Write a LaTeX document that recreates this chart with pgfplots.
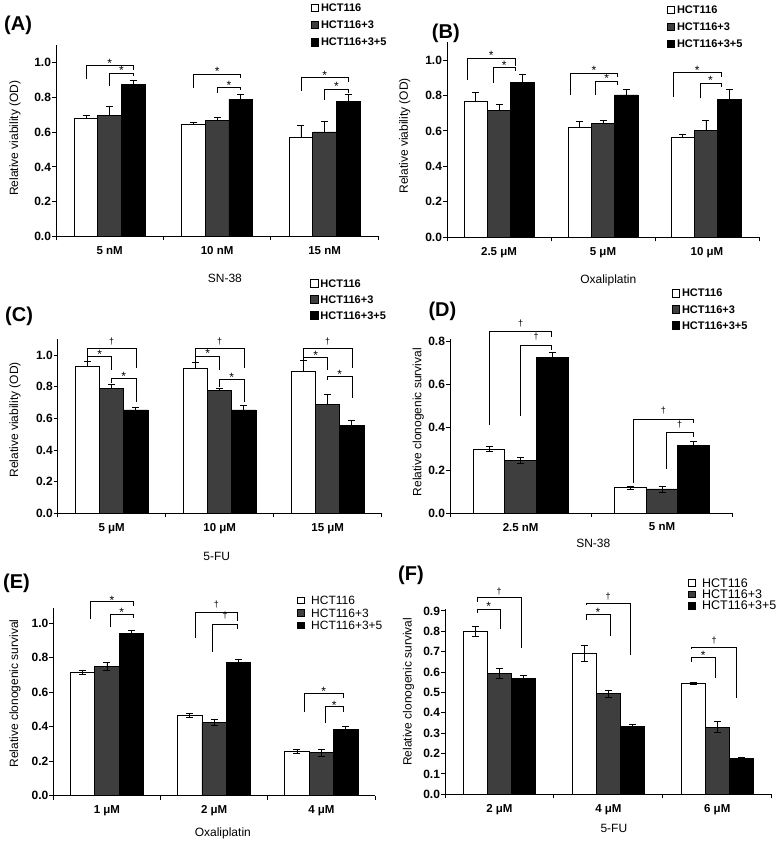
\documentclass[border=0pt]{standalone}
\usepackage{fontspec}
\setmainfont{Liberation Sans}
\usepackage{pgfplots}
\pgfplotsset{compat=1.18}
\usetikzlibrary{calc}
\definecolor{dg}{RGB}{62,62,62}

\newcommand{\ytfont}{\bfseries\fontsize{12}{13}\selectfont}
\newcommand{\xtfont}{\bfseries\fontsize{11.5}{13}\selectfont}
\newcommand{\lfont}{\fontsize{12}{13}\selectfont}
\newcommand{\sst}{{\fontsize{12}{12}\selectfont *}}
\newcommand{\sdg}{{\fontsize{9}{9}\selectfont †}}
% bracket: x1 x2 ytop yleft yright label shift
\newcommand{\brk}[7]{%
  \draw[line width=0.7pt] (axis cs:#1,#4) |- (axis cs:#2,#3) -- (axis cs:#2,#5);
  \node[anchor=base, inner sep=0pt, yshift=#7] at ($(axis cs:#1,#3)!0.5!(axis cs:#2,#3)$) {#6};
}

\pgfplotsset{
  panel/.style={
    scale only axis, clip=false,
    xmin=0, ymin=0,
    axis x line*=bottom, axis y line*=left,
    axis line style={line width=0.9pt, -},
    tick align=outside, major tick length=4pt,
    tick style={line width=0.9pt, black},
    x tick label as interval,
    yticklabel style={font=\ytfont, inner sep=0.8pt},
    xticklabel style={font=\xtfont, yshift=-2.5pt},
    label style={font=\lfont},
    legend cell align=left,
    /pgf/number format/fixed,
    /pgf/number format/fixed zerofill,
    /pgf/number format/precision=1,
    /pgf/number format/assume math mode=true,
    error bars/y explicit,
    error bars/error bar style={line width=0.8pt, black},
    error bars/error mark options={line width=0.8pt, black, mark size=3.5pt, rotate=90},
  },
  bar/.style 2 args={ybar, bar shift=0pt, bar width=#1, fill=#2, draw=black, line width=0.8pt, forget plot},
  legAD/.style 2 args={legend style={draw=none, fill=none, at={#1}, anchor=north west,
      font=\bfseries\fontsize{11}{11}\selectfont, row sep=#2, column sep=2pt, inner sep=0pt,
      nodes={inner sep=0pt, text height=7.9pt, text depth=0pt, anchor=base west}},
    legend image code/.code={\draw[##1, line width=0.6pt] (0pt,0pt) rectangle (7.6pt,7.6pt);}},
  legEF/.style n args={3}{legend style={draw=none, fill=none, at={#1}, anchor=north west,
      font=\fontsize{#3}{#3}\selectfont, row sep=#2, column sep=7pt, inner sep=0pt,
      nodes={inner sep=0pt, text height=0.716*#3, text depth=0pt, anchor=base west}},
    legend image code/.code={\draw[##1, line width=0.6pt] (0pt,1pt) rectangle (6.6pt,7.6pt);}},
}

\begin{document}
\begin{tikzpicture}
\useasboundingbox (0,0) rectangle (776pt,843pt);

% ---------------- (A)
\begin{axis}[panel, at={(56pt,606.5pt)}, anchor=south west, width=322.3pt, height=191.4pt,
  xmax=3, ymax=1.1, ytick={0,0.2,0.4,0.6,0.8,1},
  xtick={0,1,2,3}, xticklabels={5 nM,10 nM,15 nM},
  xlabel={SN-38}, ylabel={Relative viability (OD)},
  xlabel style={at={(axis description cs:0.524,-0.218)}, anchor=center},
  ylabel style={at={(axis description cs:-0.127,0.513)}, anchor=center},
  error bars/y dir=plus, legAD={(0.79,1.217)}{8.9pt}]
\addplot[bar={0.22}{white}] coordinates {(0.28,0.678) +- (0,0.019) (1.28,0.645) +- (0,0.013) (2.28,0.572) +- (0,0.067)};
\addplot[bar={0.22}{dg}] coordinates {(0.5,0.697) +- (0,0.052) (1.5,0.668) +- (0,0.019) (2.5,0.601) +- (0,0.063)};
\addplot[bar={0.22}{black}] coordinates {(0.72,0.875) +- (0,0.023) (1.72,0.789) +- (0,0.029) (2.72,0.775) +- (0,0.043)};
\addlegendimage{fill=white, draw=black}\addlegendentry{HCT116}
\addlegendimage{fill=dg, draw=black}\addlegendentry{HCT116+3}
\addlegendimage{fill=black, draw=black}\addlegendentry{HCT116+3+5}
\brk{0.28}{0.72}{0.981}{0.904}{0.956}{\sst}{-1.5pt}
\brk{0.5}{0.72}{0.94}{0.864}{0.921}{\sst}{-1.5pt}
\brk{1.28}{1.72}{0.933}{0.856}{0.908}{\sst}{-1.5pt}
\brk{1.5}{1.72}{0.856}{0.822}{0.841}{\sst}{-1.5pt}
\brk{2.28}{2.72}{0.912}{0.837}{0.889}{\sst}{-1.5pt}
\brk{2.5}{2.72}{0.845}{0.783}{0.822}{\sst}{-1.5pt}
\end{axis}

% ---------------- (B)
\begin{axis}[panel, at={(447pt,605.7pt)}, anchor=south west, width=312pt, height=195pt,
  xmax=3, ymax=1.1, ytick={0,0.2,0.4,0.6,0.8,1},
  xtick={0,1,2,3}, xticklabels={2.5 μM,5 μM,10 μM},
  xlabel={Oxaliplatin}, ylabel={Relative viability (OD)},
  xlabel style={at={(axis description cs:0.517,-0.219)}, anchor=center},
  ylabel style={at={(axis description cs:-0.135,0.52)}, anchor=center},
  error bars/y dir=plus, legAD={(0.704,1.189)}{8.8pt}]
\addplot[bar={0.224}{white}] coordinates {(0.276,0.765) +- (0,0.051) (1.276,0.62) +- (0,0.036) (2.266,0.562) +- (0,0.019)};
\addplot[bar={0.224}{dg}] coordinates {(0.5,0.718) +- (0,0.032) (1.5,0.643) +- (0,0.019) (2.49,0.602) +- (0,0.056)};
\addplot[bar={0.224}{black}] coordinates {(0.724,0.874) +- (0,0.047) (1.724,0.803) +- (0,0.033) (2.714,0.778) +- (0,0.058)};
\addlegendimage{fill=white, draw=black}\addlegendentry{HCT116}
\addlegendimage{fill=dg, draw=black}\addlegendentry{HCT116+3}
\addlegendimage{fill=black, draw=black}\addlegendentry{HCT116+3+5}
\brk{0.195}{0.654}{1.009}{0.887}{0.968}{\sst}{-1.5pt}
\brk{0.445}{0.654}{0.957}{0.872}{0.938}{\sst}{-1.5pt}
\brk{1.183}{1.641}{0.925}{0.803}{0.902}{\sst}{-1.5pt}
\brk{1.43}{1.641}{0.882}{0.803}{0.859}{\sst}{-1.5pt}
\brk{2.176}{2.635}{0.929}{0.793}{0.902}{\sst}{-1.5pt}
\brk{2.433}{2.635}{0.868}{0.784}{0.846}{\sst}{-1.5pt}
\end{axis}

% ---------------- (C)
\begin{axis}[panel, at={(57.7pt,329.7pt)}, anchor=south west, width=324pt, height=174.1pt,
  xmax=3, ymax=1.1, ytick={0,0.2,0.4,0.6,0.8,1},
  xtick={0,1,2,3}, xticklabels={5 μM,10 μM,15 μM},
  xlabel={5-FU}, ylabel={Relative viability (OD)},
  xlabel style={at={(axis description cs:0.491,-0.249)}, anchor=center},
  ylabel style={at={(axis description cs:-0.132,0.536)}, anchor=center},
  error bars/y dir=plus, legAD={(0.779,1.346)}{7.8pt}]
\addplot[bar={0.224}{white}] coordinates {(0.276,0.926) +- (0,0.032) (1.276,0.916) +- (0,0.036) (2.276,0.899) +- (0,0.065)};
\addplot[bar={0.224}{dg}] coordinates {(0.5,0.789) +- (0,0.028) (1.5,0.775) +- (0,0.014) (2.5,0.688) +- (0,0.066)};
\addplot[bar={0.224}{black}] coordinates {(0.724,0.653) +- (0,0.016) (1.724,0.653) +- (0,0.031) (2.724,0.554) +- (0,0.035)};
\addlegendimage{fill=white, draw=black}\addlegendentry{HCT116}
\addlegendimage{fill=dg, draw=black}\addlegendentry{HCT116+3}
\addlegendimage{fill=black, draw=black}\addlegendentry{HCT116+3+5}
\brk{0.276}{0.724}{1.042}{0.99}{0.916}{\sdg}{3.5pt}
\brk{0.276}{0.5}{0.989}{0.964}{0.905}{\sst}{-2pt}
\brk{0.5}{0.724}{0.853}{0.821}{0.705}{\sst}{-2pt}
\brk{1.276}{1.724}{1.042}{0.99}{0.916}{\sdg}{3.5pt}
\brk{1.276}{1.5}{0.994}{0.958}{0.905}{\sst}{-2pt}
\brk{1.5}{1.724}{0.846}{0.8}{0.705}{\sst}{-2pt}
\brk{2.276}{2.724}{1.042}{0.99}{0.916}{\sdg}{3.5pt}
\brk{2.276}{2.5}{0.985}{0.97}{0.905}{\sst}{-2pt}
\brk{2.5}{2.724}{0.867}{0.842}{0.726}{\sst}{-2pt}
\end{axis}

% ---------------- (D)
\begin{axis}[panel, at={(450pt,330pt)}, anchor=south west, width=282.7pt, height=173.8pt,
  xmax=2, ymax=0.81, ytick={0,0.2,0.4,0.6,0.8},
  xtick={0,1,2}, xticklabels={2.5 nM,5 nM},
  xlabel={SN-38}, ylabel={Relative clonogenic survival},
  xlabel style={at={(axis description cs:0.507,-0.174)}, anchor=center},
  ylabel style={at={(axis description cs:-0.112,0.522)}, anchor=center},
  error bars/y dir=both, legAD={(0.784,1.29)}{7.9pt}]
\addplot[bar={0.224}{white}] coordinates {(0.276,0.297) +- (0,0.012) (1.276,0.117) +- (0,0.006)};
\addplot[bar={0.224}{dg}] coordinates {(0.5,0.245) +- (0,0.015) (1.5,0.112) +- (0,0.014)};
\addplot[bar={0.224}{black}] coordinates {(0.724,0.725) +- (0,0.022) (1.724,0.313) +- (0,0.022)};
\addlegendimage{fill=white, draw=black}\addlegendentry{HCT116}
\addlegendimage{fill=dg, draw=black}\addlegendentry{HCT116+3}
\addlegendimage{fill=black, draw=black}\addlegendentry{HCT116+3+5}
\brk{0.278}{0.72}{0.845}{0.41}{0.822}{\sdg}{5.5pt}
\brk{0.5}{0.72}{0.783}{0.452}{0.76}{\sdg}{5.5pt}
\brk{1.3}{1.72}{0.437}{0.138}{0.418}{\sdg}{5.5pt}
\brk{1.53}{1.72}{0.374}{0.204}{0.356}{\sdg}{5.5pt}
\end{axis}

% ---------------- (E)
\begin{axis}[panel, at={(53.3pt,47.3pt)}, anchor=south west, width=321.7pt, height=187.8pt,
  xmax=3, ymax=1.09, ytick={0,0.2,0.4,0.6,0.8,1},
  xtick={0,1,2,3}, xticklabels={1 μM,2 μM,4 μM},
  xlabel={Oxaliplatin}, ylabel={Relative clonogenic survival},
  xlabel style={at={(axis description cs:0.527,-0.2)}, anchor=center},
  ylabel style={at={(axis description cs:-0.119,0.545)}, anchor=center},
  error bars/y dir=both, legEF={(0.757,1.064)}{3.9pt}{12pt}]
\addplot[bar={0.228}{white}] coordinates {(0.272,0.716) +- (0,0.01) (1.272,0.468) +- (0,0.012) (2.272,0.257) +- (0,0.01)};
\addplot[bar={0.228}{dg}] coordinates {(0.5,0.751) +- (0,0.022) (1.5,0.426) +- (0,0.019) (2.5,0.25) +- (0,0.02)};
\addplot[bar={0.228}{black}] coordinates {(0.728,0.94) +- (0,0.017) (1.728,0.774) +- (0,0.018) (2.728,0.387) +- (0,0.018)};
\addlegendimage{fill=white, draw=black}\addlegendentry{HCT116}
\addlegendimage{fill=dg, draw=black}\addlegendentry{HCT116+3}
\addlegendimage{fill=black, draw=black}\addlegendentry{HCT116+3+5}
\brk{0.349}{0.746}{1.126}{1.024}{1.101}{\sst}{-2.5pt}
\brk{0.529}{0.746}{1.053}{0.981}{1.033}{\sst}{-2.5pt}
\brk{1.322}{1.72}{1.062}{0.917}{1.016}{\sdg}{5.5pt}
\brk{1.487}{1.72}{0.995}{0.836}{0.966}{\sdg}{5.5pt}
\brk{2.339}{2.705}{0.594}{0.488}{0.565}{\sst}{-2.5pt}
\brk{2.535}{2.705}{0.517}{0.42}{0.488}{\sst}{-2.5pt}
\end{axis}

% ---------------- (F)
\begin{axis}[panel, at={(445pt,48.7pt)}, anchor=south west, width=326.7pt, height=185.4pt,
  xmax=3, ymax=0.91, ytick={0,0.1,0.2,0.3,0.4,0.5,0.6,0.7,0.8,0.9},
  xtick={0,1,2,3}, xticklabels={2 μM,4 μM,6 μM},
  xlabel={5-FU}, ylabel={Relative clonogenic survival},
  xlabel style={at={(axis description cs:0.517,-0.183)}, anchor=center},
  ylabel style={at={(axis description cs:-0.112,0.553)}, anchor=center},
  error bars/y dir=both, legEF={(0.743,1.166)}{2.4pt}{12.5pt}]
\addplot[bar={0.222}{white}] coordinates {(0.278,0.80) +- (0,0.025) (1.278,0.69) +- (0,0.04) (2.278,0.543) +- (0,0.005)};
\addplot[bar={0.222}{dg}] coordinates {(0.5,0.592) +- (0,0.025) (1.5,0.495) +- (0,0.017) (2.5,0.33) +- (0,0.028)};
\addplot[bar={0.222}{black}] coordinates {(0.722,0.567) +- (0,0.015) (1.722,0.335) +- (0,0.006) (2.722,0.178) +- (0,0.003)};
\addlegendimage{fill=white, draw=black}\addlegendentry{HCT116}
\addlegendimage{fill=dg, draw=black}\addlegendentry{HCT116+3}
\addlegendimage{fill=black, draw=black}\addlegendentry{HCT116+3+5}
\brk{0.297}{0.698}{0.965}{0.946}{0.72}{\sdg}{3.5pt}
\brk{0.297}{0.505}{0.91}{0.889}{0.81}{\sst}{-2pt}
\brk{1.295}{1.699}{0.938}{0.93}{0.684}{\sdg}{3.5pt}
\brk{1.295}{1.515}{0.884}{0.856}{0.777}{\sst}{-2pt}
\brk{2.265}{2.679}{0.722}{0.712}{0.474}{\sdg}{3.5pt}
\brk{2.265}{2.479}{0.673}{0.651}{0.57}{\sst}{-2pt}
\end{axis}

% panel letters
\node[anchor=west, font=\bfseries\fontsize{20}{20}\selectfont, inner sep=0pt] at (4pt,818pt) {(A)};
\node[anchor=west, font=\bfseries\fontsize{20}{20}\selectfont, inner sep=0pt] at (431.7pt,809.7pt) {(B)};
\node[anchor=west, font=\bfseries\fontsize{20}{20}\selectfont, inner sep=0pt] at (5pt,527pt) {(C)};
\node[anchor=west, font=\bfseries\fontsize{20}{20}\selectfont, inner sep=0pt] at (428.3pt,531.3pt) {(D)};
\node[anchor=west, font=\bfseries\fontsize{20}{20}\selectfont, inner sep=0pt] at (3pt,259.7pt) {(E)};
\node[anchor=west, font=\bfseries\fontsize{20}{20}\selectfont, inner sep=0pt] at (398pt,268pt) {(F)};
\end{tikzpicture}
\end{document}
